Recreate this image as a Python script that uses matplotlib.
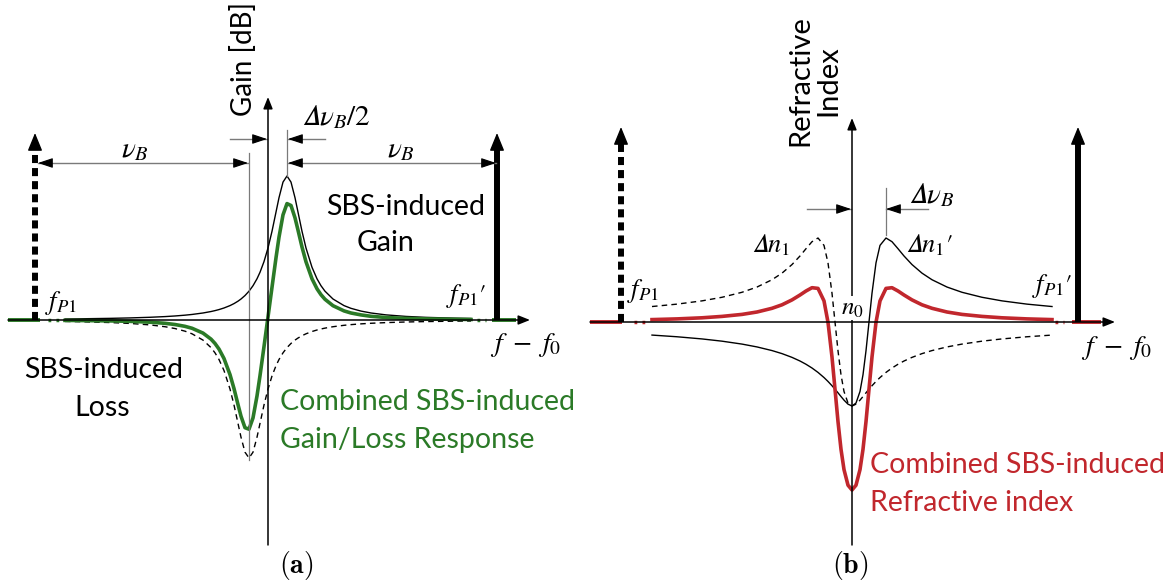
import matplotlib
matplotlib.use('Agg')
import matplotlib.pyplot as plt

plt.rcParams['font.family'] = ['Lato', 'DejaVu Sans']
plt.rcParams['mathtext.fontset'] = 'stix'

GREEN = '#2b7a27'
RED = '#c1272d'
GREY = '#7a7a7a'

# (a) gain / loss spectra, frequency offset vs. response (arbitrary units)
a_x = [-203, -188, -158, -138, -118, -103, -93, -83, -76, -65, -57, -53, -49, -44,
       -38, -34, -30, -27, -23, -19, -15, -11, -8, -4, 0, 4, 8, 11, 15, 19, 23, 27,
       30, 34, 38, 44, 49, 53, 57, 65, 76, 83, 93, 103, 118, 138, 158, 188, 203]
a_gain = [1.05, 1.20, 1.64, 2.08, 2.72, 3.41, 4.03, 4.83, 5.54, 7.01, 8.47, 9.38, 10.43,
          12.01, 14.4, 16.40, 18.82, 20.99, 24.46, 28.8, 34.27, 41.22, 47.70, 58.41, 72.0,
          88.7, 107.9, 122.3, 137.9, 144.0, 137.9, 122.3, 107.9, 88.7, 72.0, 52.73, 41.22,
          34.27, 28.8, 20.99, 14.4, 11.66, 8.91, 7.01, 5.12, 3.58, 2.64, 1.80, 1.52]
a_loss = [-1.46, -1.73, -2.53, -3.43, -4.91, -6.72, -8.54, -11.17, -13.80, -20.11, -27.60,
          -32.84, -39.50, -50.53, -69.0, -85.0, -103.4, -117.2, -132.2, -138.0, -132.2,
          -117.2, -103.4, -85.0, -69.0, -55.97, -45.71, -39.50, -32.84, -27.60, -23.44,
          -20.11, -18.04, -15.72, -13.80, -11.51, -9.99, -8.98, -8.12, -6.72, -5.31, -4.63,
          -3.86, -3.27, -2.61, -1.99, -1.57, -1.15, -1.01]
a_combined = [-0.41, -0.53, -0.89, -1.35, -2.19, -3.31, -4.51, -6.34, -8.26, -13.10, -19.13,
              -23.46, -29.07, -38.52, -54.6, -68.6, -84.6, -96.2, -107.7, -109.2, -97.9,
              -76.0, -55.7, -26.6, 3.0, 32.7, 62.2, 82.8, 105.1, 116.4, 114.5, 102.2, 89.9,
              73.0, 58.2, 41.2, 31.2, 25.3, 20.7, 14.3, 9.1, 7.0, 5.1, 3.7, 2.5, 1.6, 1.1,
              0.7, 0.5]

# (b) refractive index change
b_x = [-200, -175, -150, -130, -110, -95, -80, -70, -60, -52, -46, -40, -34, -28, -24, -20,
       -17, -14, -11, -8, -4, 0, 4, 8, 11, 14, 17, 20, 24, 28, 34, 40, 46, 52, 60, 70, 80,
       95, 110, 130, 150, 175, 200]
b_gain_index = [-13.08, -14.76, -16.93, -19.17, -22.09, -24.93, -28.57, -31.62, -35.37,
                -39.02, -42.26, -46.01, -50.40, -55.54, -59.44, -63.73, -67.20, -70.83,
                -74.53, -78.12, -82.16, -84.0, -81.07, -69.47, -52.73, -28.75, 0.0, 28.75,
                59.15, 76.62, 84.0, 80.30, 73.30, 66.02, 57.44, 48.86, 42.26, 34.96, 29.72,
                24.72, 21.13, 17.87, 15.47]
b_loss_index = [15.47, 17.87, 21.13, 24.72, 29.72, 34.96, 42.26, 48.86, 57.44, 66.02, 73.30,
                80.30, 84.0, 76.62, 59.15, 28.75, 0.0, -28.75, -52.73, -69.47, -81.07, -84.0,
                -82.16, -78.12, -74.53, -70.83, -67.20, -63.73, -59.44, -55.54, -50.40,
                -46.01, -42.26, -39.02, -35.37, -31.62, -28.57, -24.93, -22.09, -19.17,
                -16.93, -14.76, -13.08]
b_combined = [2.4, 3.1, 4.2, 5.6, 7.6, 10.0, 13.7, 17.2, 22.1, 27.0, 31.0, 34.3, 33.6, 21.1,
              -0.3, -35.0, -67.2, -99.6, -127.3, -147.6, -163.2, -168.0, -163.2, -147.6,
              -127.3, -99.6, -67.2, -35.0, -0.3, 21.1, 33.6, 34.3, 31.0, 27.0, 22.1, 17.2,
              13.7, 10.0, 7.6, 5.6, 4.2, 3.1, 2.4]


def arrow(ax, start, end, lw=1.1, color='black', style='-|>', hl=0.7, hw=0.28):
    ax.annotate('', xy=end, xytext=start,
                arrowprops=dict(arrowstyle=f'{style},head_length={hl},head_width={hw}',
                                color=color, lw=lw, shrinkA=0, shrinkB=0,
                                mutation_scale=10))


def dim_arrow(ax, start, end, both=False):
    # grey shaft, black heads
    ax.plot([start[0], end[0]], [start[1], end[1]], color=GREY, lw=1.0)
    dx = 12 if end[0] > start[0] else -12
    arrow(ax, (end[0] - dx, end[1]), end, lw=0.8, hl=0.9, hw=0.3)
    if both:
        arrow(ax, (start[0] + dx, start[1]), start, lw=0.8, hl=0.9, hw=0.3)


def pump(ax, x, top, dotted=False):
    if dotted:
        ax.plot([x, x], [0, top - 12], color='black', lw=4.3,
                linestyle=(0, (1.35, 0.84)), solid_capstyle='butt')
    else:
        ax.plot([x, x], [0, top - 12], color='black', lw=4.3, solid_capstyle='butt')
    arrow(ax, (x, top - 16), (x, top), lw=1.0, hl=1.1, hw=0.45)


def frame(ax, color, left, right, top, bottom, gaps):
    # axis line with the short "- . ." breaks at both ends
    l0, l1, l2, r0, r1, r2 = gaps
    ax.plot([left, l0], [0, 0], color=color, lw=2.8, solid_capstyle='butt')
    ax.plot([l1, l2], [0, 0], color=color, lw=2.5, linestyle=(0, (0.8, 1.5)))
    ax.plot([r0, r1], [0, 0], color=color, lw=2.5, linestyle=(0, (0.8, 1.5)))
    ax.plot([r2, right - 14], [0, 0], color=color, lw=2.8, solid_capstyle='butt')
    arrow(ax, (left, 0), (right, 0))
    arrow(ax, (0, bottom), (0, top))


fig = plt.figure(figsize=(11.68, 5.85), dpi=100)
ax_a = fig.add_axes([0, 0, 0.5, 1])
ax_b = fig.add_axes([0.5, 0, 0.5, 1])
ax_a.set_xlim(-268, 316)
ax_a.set_ylim(-265, 320)
ax_b.set_xlim(-268, 316)
ax_b.set_ylim(-263, 322)
for ax in (ax_a, ax_b):
    ax.axis('off')

MATH = 21
BODY = 20.5
DELTA = '\U0001D6E5'   # italic capital delta
FP1 = r'$f_{P1}$'
FP1P = r'$f_{P1}\prime$'
FF0 = r'$f\ -\ f_0$'

# ---------------- (a) ----------------
frame(ax_a, GREEN, -260, 262, 223, -225, (-228, -220, -209, 209, 218, 224))
ax_a.plot(a_x, a_gain, color='black', lw=1.0)
ax_a.plot(a_x, a_loss, color='black', lw=1.0, linestyle=(0, (4, 3)))
ax_a.plot(a_x, a_combined, color=GREEN, lw=2.6)
pump(ax_a, -233, 187, dotted=True)
pump(ax_a, 229, 187)

ax_a.plot([-19, -19], [167, -140], color=GREY, lw=0.9)
ax_a.plot([19, 19], [190, 144], color=GREY, lw=0.9)
dim_arrow(ax_a, (-230, 157), (-20, 157), both=True)
dim_arrow(ax_a, (20, 157), (228, 157), both=True)
dim_arrow(ax_a, (-38, 181), (-1, 181))
dim_arrow(ax_a, (57, 181), (20, 181))

ax_a.text(-24, 261, 'Gain [dB]', rotation=90, ha='center', va='center', fontsize=20)
ax_a.text(-133, 170, r'$\nu_B$', ha='center', va='center', fontsize=MATH)
ax_a.text(133, 170, r'$\nu_B$', ha='center', va='center', fontsize=MATH)
ax_a.text(68, 203, '$' + DELTA + r'\nu_B/2$', ha='center', va='center', fontsize=MATH)
ax_a.text(-223, 17, FP1, ha='left', va='center', fontsize=19)
ax_a.text(198, 24, FP1P, ha='center', va='center', fontsize=19)
ax_a.text(258, -25, FF0, ha='center', va='center', fontsize=20)
ax_a.text(138, 113, 'SBS-induced', ha='center', va='center', fontsize=BODY)
ax_a.text(118, 77, 'Gain', ha='center', va='center', fontsize=BODY)
ax_a.text(-164, -50, 'SBS-induced', ha='center', va='center', fontsize=BODY)
ax_a.text(-166, -88, 'Loss', ha='center', va='center', fontsize=BODY)
ax_a.text(12, -82, 'Combined SBS-induced', ha='left', va='center', fontsize=BODY, color=GREEN)
ax_a.text(12, -120, 'Gain/Loss Response', ha='left', va='center', fontsize=BODY, color=GREEN)
ax_a.text(28, -246, r'$\mathbf{(a)}$', ha='center', va='center', fontsize=20,
          math_fontfamily='cm')

# ---------------- (b) ----------------
frame(ax_b, RED, -262, 263, 204, -223, (-230, -218, -207, 203, 212, 220))
ax_b.plot(b_x, b_gain_index, color='black', lw=1.0)
ax_b.plot(b_x, b_loss_index, color='black', lw=1.0, linestyle=(0, (4, 3)))
ax_b.plot(b_x, b_combined, color=RED, lw=2.6)
pump(ax_b, -231, 195, dotted=True)
pump(ax_b, 226, 195)

ax_b.plot([34, 34], [134, 87], color=GREY, lw=0.9)
dim_arrow(ax_b, (-45, 113), (-1, 113))
dim_arrow(ax_b, (76, 113), (34, 113))

ax_b.text(-52, 241, 'Refractive', rotation=90, ha='center', va='center', fontsize=21)
ax_b.text(-24, 241, 'Index', rotation=90, ha='center', va='center', fontsize=21)
ax_b.text(80, 127, '$' + DELTA + r'\nu_B$', ha='center', va='center', fontsize=MATH)
ax_b.text(-81, 77, '$' + DELTA + r'n_1$', ha='center', va='center', fontsize=19)
ax_b.text(77, 77, '$' + DELTA + r'n_1\prime$', ha='center', va='center', fontsize=19)
ax_b.text(0, 14, r'$n_0$', ha='center', va='center', fontsize=18,
          bbox=dict(facecolor='white', edgecolor='none', pad=0.5), zorder=5)
ax_b.text(-209, 31, FP1, ha='center', va='center', fontsize=19)
ax_b.text(200, 36, FP1P, ha='center', va='center', fontsize=19)
ax_b.text(265, -26, FF0, ha='center', va='center', fontsize=20)
ax_b.text(18, -143, 'Combined SBS-induced', ha='left', va='center', fontsize=BODY, color=RED)
ax_b.text(18, -181, 'Refractive index', ha='left', va='center', fontsize=BODY, color=RED)
ax_b.text(-2, -244, r'$\mathbf{(b)}$', ha='center', va='center', fontsize=20,
          math_fontfamily='cm')

fig.savefig('out.png', dpi=100)
